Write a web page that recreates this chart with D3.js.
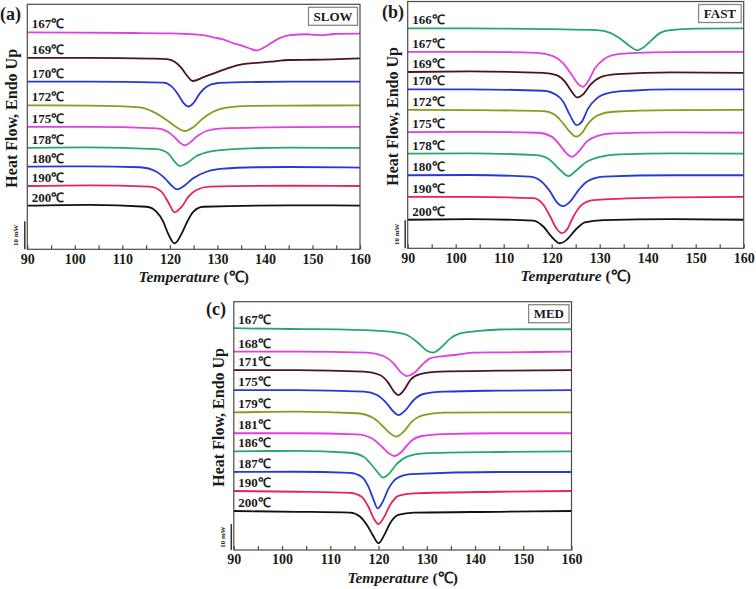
<!DOCTYPE html>
<html><head><meta charset="utf-8">
<script src="https://cdn.jsdelivr.net/npm/d3@7/dist/d3.min.js"></script>
<style>
body{margin:0;background:#fff}
svg{display:block}
text{font-family:"Liberation Serif","Times New Roman",serif;font-weight:bold;fill:#1a1a1a}
</style>
</head><body>
<svg id="chart" width="756" height="589"></svg>
<script>
// ---------- DATA (temperature in deg C, heat flow in mW incl. stacking offset) ----------
const xTicks = [90, 100, 110, 120, 130, 140, 150, 160];

const slowLabels = ["167℃","169℃","170℃","172℃","175℃","178℃","180℃","190℃","200℃"];
const slowColors = ["magenta","maroon","blue","olive","magenta","green","blue","red","black"];
const slowCurves = [
 [[90,77.5],[100,77.4],[112,77.25],[120,77.1],[123.5,76.9],[127,76.5],[129.1,75.7],[131.2,75.0],[133.3,73.6],[134.7,73.0],[136.5,71.9],[138.2,71.0],[140,72.25],[141,73.3],[143.1,75.4],[145.2,76.5],[148.8,76.8],[150.5,76.6],[152,76.5],[154.4,76.9],[160,77.0]],
 [[90,68.4],[103,68.4],[116,68.1],[119.3,67.9],[121,67.0],[122.5,64.6],[123.5,62.25],[124.8,60.1],[127,61.4],[129.8,63.2],[132.6,64.9],[135.4,66.1],[138.2,66.6],[141,67.0],[145.2,67.6],[150,67.7],[160,68.2]],
 [[90,59.86],[103,59.86],[118.6,59.5],[120.4,58.07],[121.8,55.1],[122.8,52.4],[123.9,51.0],[124.9,52.1],[126.3,55.7],[127.7,58.07],[129.8,59.3],[133.3,59.6],[145,59.86],[160,59.86]],
 [[90,51.4],[103,51.3],[113.7,50.7],[116.5,49.1],[119.3,46.2],[121.4,43.6],[123.2,42.25],[124.9,43.6],[127,46.8],[129.1,49.1],[131.9,50.6],[136.8,51.2],[145,51.3],[160,51.4]],
 [[90,43.7],[103,43.7],[117.2,43.2],[119.3,42.25],[121,40.0],[122.1,38.1],[123.2,37.1],[124.2,38.1],[125.6,40.2],[127.7,42.25],[131.2,43.2],[145,43.6],[160,43.7]],
 [[90,36.2],[103,36.4],[117.2,35.8],[119.6,34.3],[121,31.3],[122.1,29.75],[123.5,30.7],[125.6,33.3],[128.4,34.9],[132.6,35.7],[145,36.3],[160,36.2]],
 [[90,29.5],[103,29.6],[113.7,29.3],[117.2,27.7],[118.9,25.4],[120.4,22.7],[121.5,21.4],[122.8,22.4],[124.9,25.4],[127.7,27.7],[131.2,28.8],[138.2,29.3],[145,29.4],[160,29.2]],
 [[90,22.6],[103,22.86],[115.8,22.36],[118.2,20.6],[119.6,17.0],[121,13.2],[122.5,15.2],[123.9,18.8],[125.6,21.2],[128.4,22.36],[145,22.7],[160,22.6]],
 [[90,15.6],[103,15.9],[115.1,15.2],[117.2,13.4],[118.6,9.9],[119.6,5.7],[121,2.1],[122.5,5.7],[123.5,9.3],[124.9,13.4],[127,15.2],[145,15.7],[160,15.6]]
];

const fastLabels = ["166℃","167℃","169℃","170℃","172℃","175℃","178℃","180℃","190℃","200℃"];
const fastColors = ["green","magenta","maroon","blue","olive","magenta","green","blue","red","black"];
const fastCurves = [
 [[90,78.6],[103,78.6],[120,78.3],[129.4,78.0],[132.2,77.0],[134.2,75.0],[136.3,72.25],[137.7,70.8],[139.1,71.8],[140.8,74.4],[142.6,77.0],[144.7,78.0],[150,78.5],[160,78.6]],
 [[90,70.2],[103,70.2],[116.9,69.86],[120.3,68.7],[122.4,66.1],[124.2,61.9],[125.6,58.6],[126.5,57.7],[127.6,59.75],[129,64.3],[130.8,67.5],[133.5,69.3],[137.7,69.86],[145,70.1],[160,70.2]],
 [[90,63.0],[103,63.2],[118.3,62.7],[121,61.9],[122.8,59.5],[124.2,55.9],[125.3,53.9],[126.6,55.1],[128,58.3],[130.1,61.1],[133.5,62.25],[145,62.9],[160,62.7]],
 [[90,56.8],[103,56.8],[118.3,56.3],[121,54.75],[122.4,52.4],[123.8,47.6],[125.2,44.0],[126.25,45.2],[127.6,50.0],[129.4,53.6],[132.2,55.6],[136.3,56.3],[145,56.8],[160,56.8]],
 [[90,49.5],[103,49.4],[118.3,49.0],[120.7,47.6],[122.4,44.6],[123.8,41.6],[125.1,39.9],[126.25,41.1],[127.6,44.6],[129.7,47.6],[132.8,48.8],[145,49.4],[160,49.5]],
 [[90,41.5],[103,41.6],[116.9,41.3],[120,39.9],[121.7,36.9],[123.1,33.9],[124.2,32.7],[125.6,34.5],[127.3,38.1],[129.4,40.1],[132.8,41.1],[145,41.4],[160,41.3]],
 [[90,33.8],[103,33.9],[116.9,33.3],[119.7,31.5],[121.4,28.6],[122.8,26.4],[123.5,25.8],[125.2,28.0],[127.3,30.9],[130.1,32.7],[134.2,33.6],[145,33.9],[160,33.8]],
 [[90,26.1],[103,26.2],[115.5,25.6],[117.9,23.8],[119.7,20.2],[121,16.6],[122.4,15.1],[123.8,16.6],[125.6,20.8],[127.3,23.8],[130.8,25.6],[145,26.1],[160,26.1]],
 [[90,18.4],[103,18.4],[116.2,17.9],[118.3,15.5],[119.7,11.3],[121,7.1],[122.1,5.4],[123.1,6.5],[124.5,11.3],[126.25,15.5],[128.7,17.25],[145,18.2],[160,18.4]],
 [[90,10.2],[103,10.4],[116.2,9.9],[118.3,7.7],[120,4.1],[121.7,1.8],[123.1,3.0],[124.9,6.5],[126.9,9.3],[130.8,10.1],[145,10.4],[160,10.2]]
];

const medLabels = ["167℃","168℃","171℃","175℃","179℃","181℃","186℃","187℃","190℃","200℃"];
const medColors = ["green","magenta","maroon","blue","olive","magenta","green","blue","red","black"];
const medCurves = [
 [[90,85.3],[101.7,85.0],[115,84.7],[122.4,84.0],[125.9,82.7],[128.3,79.5],[130,76.65],[131.3,75.9],[132.8,77.6],[134.9,81.4],[136.9,83.3],[138.5,83.8],[141,84.3],[145,84.8],[150,84.9],[160,84.9]],
 [[90,76.3],[103,76.3],[117.6,75.9],[121,74.6],[123.1,71.8],[124.5,68.6],[125.9,66.9],[127.3,67.96],[129,71.15],[130.7,73.7],[133.5,74.6],[136.2,75.1],[139.7,75.9],[145,76.0],[160,76.3]],
 [[90,69.2],[103,69.2],[117,68.6],[120.3,67.3],[122.1,64.1],[123.2,60.9],[124.1,59.6],[125.2,61.3],[126.6,65.4],[128.6,67.6],[132.8,68.6],[145,68.96],[160,69.2]],
 [[90,61.5],[103,61.5],[117,60.9],[119.7,59.6],[121.7,56.4],[123.1,53.2],[124.1,51.9],[125.5,53.6],[127.3,57.7],[129.3,60.0],[133.5,60.9],[145,61.3],[160,61.5]],
 [[90,52.96],[103,53.2],[115.5,52.6],[119,50.65],[121,47.4],[122.4,44.9],[123.7,43.6],[125.2,45.5],[126.9,49.35],[129.3,51.9],[133.5,52.8],[145,52.96],[160,52.96]],
 [[90,44.9],[103,44.9],[115.5,44.5],[118.6,42.96],[120.7,39.7],[122.1,37.2],[123.3,36.15],[124.8,37.8],[126.6,41.65],[129,43.85],[133.5,44.6],[145,44.9],[160,44.9]],
 [[90,37.96],[103,38.1],[114.1,37.4],[116.9,35.9],[118.6,32.7],[120,29.5],[120.9,27.8],[122.1,29.2],[123.8,33.1],[125.9,35.9],[129.3,37.2],[145,37.7],[160,37.96]],
 [[90,30],[103,30.1],[114.1,29.7],[116.5,28.2],[117.9,24.35],[119,19.2],[119.8,16.0],[120.7,17.96],[122.1,23.7],[123.8,27.6],[126.6,29.2],[145,30],[160,30]],
 [[90,22.7],[103,22.4],[114.1,22.0],[116.5,20.5],[117.9,16.65],[119,12.2],[120,10.0],[121,12.2],[122.4,17.3],[124.1,20.8],[127.3,21.8],[145,22.4],[160,22.7]],
 [[90,15],[103,14.7],[114.1,14.35],[116.2,12.8],[117.6,9.6],[118.8,5.8],[120,2.6],[121.2,5.8],[122.4,10.3],[124.1,13.5],[127.3,14.35],[145,14.7],[160,15]]
];

const slowYDomain = [0, 87.5];
const fastYDomain = [0, 88.2];
const medYDomain  = [0, 95.5];
const scaleBarMw = 10;

// ---------- STYLE / LAYOUT ----------
const palette = {magenta:"#e23fe0", maroon:"#4c1420", blue:"#2838d6", olive:"#8c9a1e",
                 green:"#28a866", red:"#e5245c", black:"#111111"};

const panels = [
  {tag:"(a)", name:"SLOW", labels:slowLabels, colors:slowColors, curves:slowCurves, dom:slowYDomain,
   left:27.3, right:360, top:4.3, bottom:249.3, tagX:0, tagY:20},
  {tag:"(b)", name:"FAST", labels:fastLabels, colors:fastColors, curves:fastCurves, dom:fastYDomain,
   left:407.7, right:743.7, top:1.5, bottom:248.3, tagX:382, tagY:18},
  {tag:"(c)", name:"MED", labels:medLabels, colors:medColors, curves:medCurves, dom:medYDomain,
   left:233.8, right:571.5, top:301.7, bottom:550, tagX:206, tagY:315}
];

const svg = d3.select("#chart");

panels.forEach(p => {
  const x = d3.scaleLinear().domain([90,160]).range([p.left, p.right]);
  const y = d3.scaleLinear().domain(p.dom).range([p.bottom, p.top]);
  const g = svg.append("g");

  // curves
  const line = d3.line().x(d => x(d[0])).y(d => y(d[1])).curve(d3.curveMonotoneX);
  p.curves.forEach((c, i) => {
    g.append("path").attr("d", line(c)).attr("fill","none")
      .attr("stroke", palette[p.colors[i]]).attr("stroke-width",1.8)
      .attr("stroke-linejoin","round");
  });

  // frame
  g.append("rect").attr("x",p.left).attr("y",p.top)
    .attr("width",p.right-p.left).attr("height",p.bottom-p.top)
    .attr("fill","none").attr("stroke","#4a4a4a").attr("stroke-width",1.2);

  // x axis
  const ax = g.append("g").attr("transform",`translate(0,${p.bottom})`)
    .call(d3.axisBottom(x).tickValues(d3.range(90,161,5)).tickSize(-4).tickPadding(4.5)
      .tickFormat(d => xTicks.includes(d) ? d : ""));
  ax.select(".domain").remove();
  ax.selectAll("line").attr("stroke","#4a4a4a").attr("stroke-width",1.2);
  ax.selectAll("text").style("font-size","14px").style("font-family",'"Liberation Serif",serif')
    .style("font-weight","bold").attr("fill","#1a1a1a");

  // x title
  const xt = g.append("text").attr("x",(p.left+p.right)/2).attr("y",p.bottom+32.5)
    .attr("text-anchor","middle").style("font-size","15.5px");
  xt.append("tspan").text("Temperature").style("font-style","italic");
  xt.append("tspan").text(" (℃)");

  // y title
  g.append("text").attr("transform",`translate(${p.left-15.5},${(p.top+p.bottom)/2-8.5}) rotate(-90)`)
    .attr("text-anchor","middle").attr("dy","0.35em").style("font-size","16px")
    .text("Heat Flow, Endo Up");

  // scale bar
  g.append("line").attr("x1",p.left-2.5).attr("x2",p.left-2.5)
    .attr("y1",y(0)).attr("y2",y(scaleBarMw)).attr("stroke","#333").attr("stroke-width",1.5);
  g.append("text").attr("transform",`translate(${p.left-11.5},${y(scaleBarMw/2)}) rotate(-90)`)
    .attr("text-anchor","middle").attr("dy","0.35em").style("font-size","7px")
    .text(scaleBarMw + " mW");

  // curve labels (above each trace's starting baseline)
  p.curves.forEach((c, i) => {
    g.append("text").attr("x",p.left+4.5).attr("y",y(c[0][1]) - 8.5)
      .attr("dy","0.35em").style("font-size","13px").text(p.labels[i]);
  });

  // panel tag
  g.append("text").attr("x",p.tagX).attr("y",p.tagY).style("font-size","18px").text(p.tag);

  // name box
  const bt = g.append("text").attr("text-anchor","middle").attr("dy","0.35em")
    .style("font-size","13px").text(p.name);
  const bb = bt.node().getBBox();
  const bw = bb.width + 10, bh = 18;
  const bx = p.right - 2.5 - bw, by = p.top + 3;
  bt.attr("x", bx + bw/2).attr("y", by + bh/2);
  g.insert("rect", () => bt.node()).attr("x",bx).attr("y",by).attr("width",bw).attr("height",bh)
    .attr("fill","#fff").attr("stroke","#888").attr("stroke-width",1.3);
});
</script>
</body></html>
